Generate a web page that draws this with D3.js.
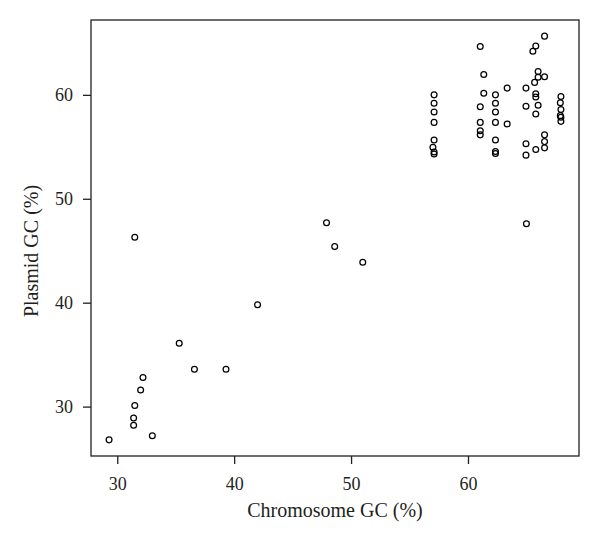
<!DOCTYPE html>
<html><head><meta charset="utf-8">
<script src="https://cdn.jsdelivr.net/npm/d3@7"></script>
<style>body{margin:0;background:#fff}svg{display:block}</style>
</head><body>
<script>
const chromosomeGC = [
  29.3, 31.4, 31.4, 31.5, 32.0, 32.2, 33.0, 31.5, 35.3, 36.6, 39.3, 42.0, 47.9, 48.6, 51.0, 65.0,
  57.1, 57.1, 57.1, 57.1, 57.1, 57.0, 57.1, 57.1,
  61.05, 61.05, 61.05, 61.05, 61.05, 61.35, 61.35,
  62.35, 62.35, 62.35, 62.35, 62.35, 62.35, 62.35, 63.35, 63.35,
  64.96, 64.96, 64.96, 64.96,
  66.55, 65.8, 65.55, 66.0, 66.0, 65.7, 66.55, 65.8, 65.8, 66.0, 65.8, 65.8, 66.55, 66.55, 66.55,
  67.95, 67.9, 67.95, 67.9, 67.95, 67.95
];
const plasmidGC = [
  26.8, 28.2, 28.9, 30.1, 31.6, 32.8, 27.2, 46.3, 36.1, 33.6, 33.6, 39.8, 47.7, 45.4, 43.9, 47.6,
  60.0, 59.2, 58.35, 57.35, 55.65, 54.95, 54.5, 54.3,
  64.65, 58.85, 57.35, 56.55, 56.15, 61.95, 60.15,
  60.0, 59.2, 58.35, 57.35, 55.65, 54.55, 54.35, 60.65, 57.2,
  60.65, 58.9, 55.3, 54.2,
  65.65, 64.7, 64.2, 62.25, 61.7, 61.2, 61.75, 60.1, 59.8, 59.0, 58.15, 54.75, 56.15, 55.5, 54.9,
  59.85, 59.25, 58.6, 58.0, 57.85, 57.45
];
const xTicks = [30, 40, 50, 60];
const yTicks = [30, 40, 50, 60];
const xLabel = "Chromosome GC (%)";
const yLabel = "Plasmid GC (%)";

const W = 600, H = 545;
const m = {left: 91, right: 21, top: 20, bottom: 89};
const svg = d3.select("body").append("svg").attr("width", W).attr("height", H);
const font = "'Liberation Serif', 'DejaVu Serif', serif";
const ink = "#231f20";

const xExt = d3.extent(chromosomeGC), yExt = d3.extent(plasmidGC);
const xPad = (xExt[1]-xExt[0])*0.04, yPad = (yExt[1]-yExt[0])*0.04;
const x = d3.scaleLinear().domain([xExt[0]-xPad, xExt[1]+xPad]).range([m.left, W-m.right]);
const y = d3.scaleLinear().domain([yExt[0]-yPad, yExt[1]+yPad]).range([H-m.bottom, m.top]);

const xAxis = svg.append("g").attr("transform", `translate(0,${H-m.bottom})`)
  .call(d3.axisBottom(x).tickValues(xTicks).tickSize(8).tickPadding(13));
const yAxis = svg.append("g").attr("transform", `translate(${m.left},0)`)
  .call(d3.axisLeft(y).tickValues(yTicks).tickSize(8).tickPadding(10));
[xAxis, yAxis].forEach(a => {
  a.select(".domain").remove();
  a.selectAll(".tick line").attr("stroke", ink).attr("stroke-width", 1.3);
  a.selectAll(".tick text").attr("font-family", font).attr("font-size", 18).attr("fill", ink);
});

svg.append("rect").attr("x", m.left).attr("y", m.top)
  .attr("width", W-m.left-m.right).attr("height", H-m.top-m.bottom)
  .attr("fill", "none").attr("stroke", ink).attr("stroke-width", 1.3);

svg.append("g").selectAll("circle").data(chromosomeGC.map((v,i)=>[v, plasmidGC[i]]))
  .join("circle")
  .attr("cx", d => x(d[0])).attr("cy", d => y(d[1])).attr("r", 2.9)
  .attr("fill", "none").attr("stroke", "#000").attr("stroke-width", 1.25);

svg.append("text").attr("x", (m.left + W - m.right)/2).attr("y", 517)
  .attr("text-anchor", "middle").attr("font-family", font).attr("font-size", 20)
  .attr("fill", ink).text(xLabel);
svg.append("text").attr("transform", `translate(38,251) rotate(-90)`)
  .attr("text-anchor", "middle").attr("font-family", font).attr("font-size", 20)
  .attr("fill", ink).text(yLabel);
</script>
</body></html>
